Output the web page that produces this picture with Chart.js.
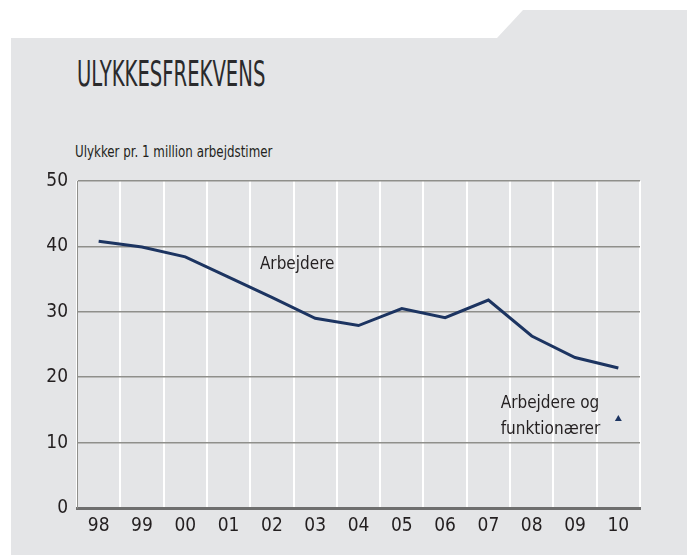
<!DOCTYPE html>
<html>
<head>
<meta charset="utf-8">
<script src="https://cdn.jsdelivr.net/npm/chart.js@4"></script>
<style>
  html, body { margin: 0; padding: 0; background: #ffffff; }
  body { width: 687px; height: 555px; position: relative; overflow: hidden; font-family: "DejaVu Sans Condensed", "Liberation Sans", sans-serif; }
  .panel {
    position: absolute; left: 0; top: 0; width: 687px; height: 555px;
    background: #e4e5e7;
    clip-path: polygon(11px 38px, 497px 38px, 523px 10px, 687px 10px, 687px 555px, 11px 555px);
  }
  .title {
    position: absolute; left: 77px; top: 53px;
    font-family: "DejaVu Sans", sans-serif; font-weight: 400;
    font-size: 36px; color: #2a2a2c; white-space: nowrap;
    transform: scaleX(0.545); transform-origin: left top;
  }
  .unit {
    position: absolute; left: 75px; top: 143px;
    font-size: 15px; color: #231f20; white-space: nowrap;
    transform: scaleX(0.88); transform-origin: left top;
  }
  #wrap { position: absolute; left: 0; top: 0; width: 687px; height: 555px; }
</style>
</head>
<body>
<div class="panel"></div>
<div class="title">ULYKKESFREKVENS</div>
<div class="unit">Ulykker pr. 1 million arbejdstimer</div>
<div id="wrap"><canvas id="accidentChart" width="687" height="555"></canvas></div>
<script>
// Data
const years = ['98', '99', '00', '01', '02', '03', '04', '05', '06', '07', '08', '09', '10'];
const arbejdere = [40.8, 39.9, 38.4, 35.3, 32.2, 29.0, 27.9, 30.5, 29.1, 31.8, 26.3, 23.0, 21.4];
const arbejdereOgFunktionaerer = [null, null, null, null, null, null, null, null, null, null, null, null, 13.6];
const yTicks = [0, 10, 20, 30, 40, 50];

const navy = '#1c3461';
const fontFamily = '"DejaVu Sans Condensed", "Liberation Sans", sans-serif';

// Text labels next to the lines
const labelPlugin = {
    id: 'seriesLabels',
    afterDatasetsDraw(chart) {
        const ctx = chart.ctx;
        const x = chart.scales.x;
        const y = chart.scales.y;
        ctx.save();
        ctx.fillStyle = '#231f20';
        ctx.font = '17px ' + fontFamily;
        ctx.textAlign = 'left';
        ctx.textBaseline = 'alphabetic';
        ctx.fillText('Arbejdere', x.getPixelForValue(4) - 12, y.getPixelForValue(37) + 3);
        ctx.fillText('Arbejdere og', x.getPixelForValue(10) - 31, y.getPixelForValue(15.2) - 1);
        ctx.fillText('funktionærer', x.getPixelForValue(10) - 31, y.getPixelForValue(11.5) + 1);
        ctx.restore();
    }
};

function initAccidentChart() {
    const ctx = document.getElementById('accidentChart').getContext('2d');
    new Chart(ctx, {
        type: 'line',
        data: {
            labels: years,
            datasets: [{
                label: 'Arbejdere',
                data: arbejdere,
                borderColor: navy,
                borderWidth: 3,
                tension: 0,
                pointRadius: 0,
                fill: false
            }, {
                label: 'Arbejdere og funktionærer',
                data: arbejdereOgFunktionaerer,
                showLine: false,
                pointStyle: 'triangle',
                pointRadius: 4,
                backgroundColor: navy,
                borderColor: navy,
                borderWidth: 0
            }]
        },
        options: {
            responsive: false,
            animation: false,
            layout: {
                padding: { left: 0, right: 47, top: 181, bottom: 0 }
            },
            plugins: {
                legend: { display: false },
                tooltip: { enabled: false }
            },
            scales: {
                x: {
                    offset: true,
                    grid: {
                        offset: true,
                        color: '#ffffff',
                        lineWidth: 2,
                        drawTicks: false
                    },
                    border: { display: true, color: '#6e6e6e', width: 3 },
                    ticks: {
                        color: '#231f20',
                        padding: 7,
                        font: { family: fontFamily, size: 19 },
                        maxRotation: 0
                    },
                    afterFit(scale) { scale.height = 47; }
                },
                y: {
                    min: 0,
                    max: 50,
                    afterBuildTicks(scale) { scale.ticks = yTicks.map(v => ({ value: v })); },
                    grid: {
                        color: '#8f8f8b',
                        lineWidth: 1.5,
                        drawTicks: false
                    },
                    border: { display: true, color: '#8f8f8b', width: 1 },
                    ticks: {
                        color: '#231f20',
                        padding: 9,
                        font: { family: fontFamily, size: 19 }
                    },
                    afterFit(scale) { scale.width = 77; }
                }
            }
        },
        plugins: [labelPlugin]
    });
}

initAccidentChart();
</script>
</body>
</html>
